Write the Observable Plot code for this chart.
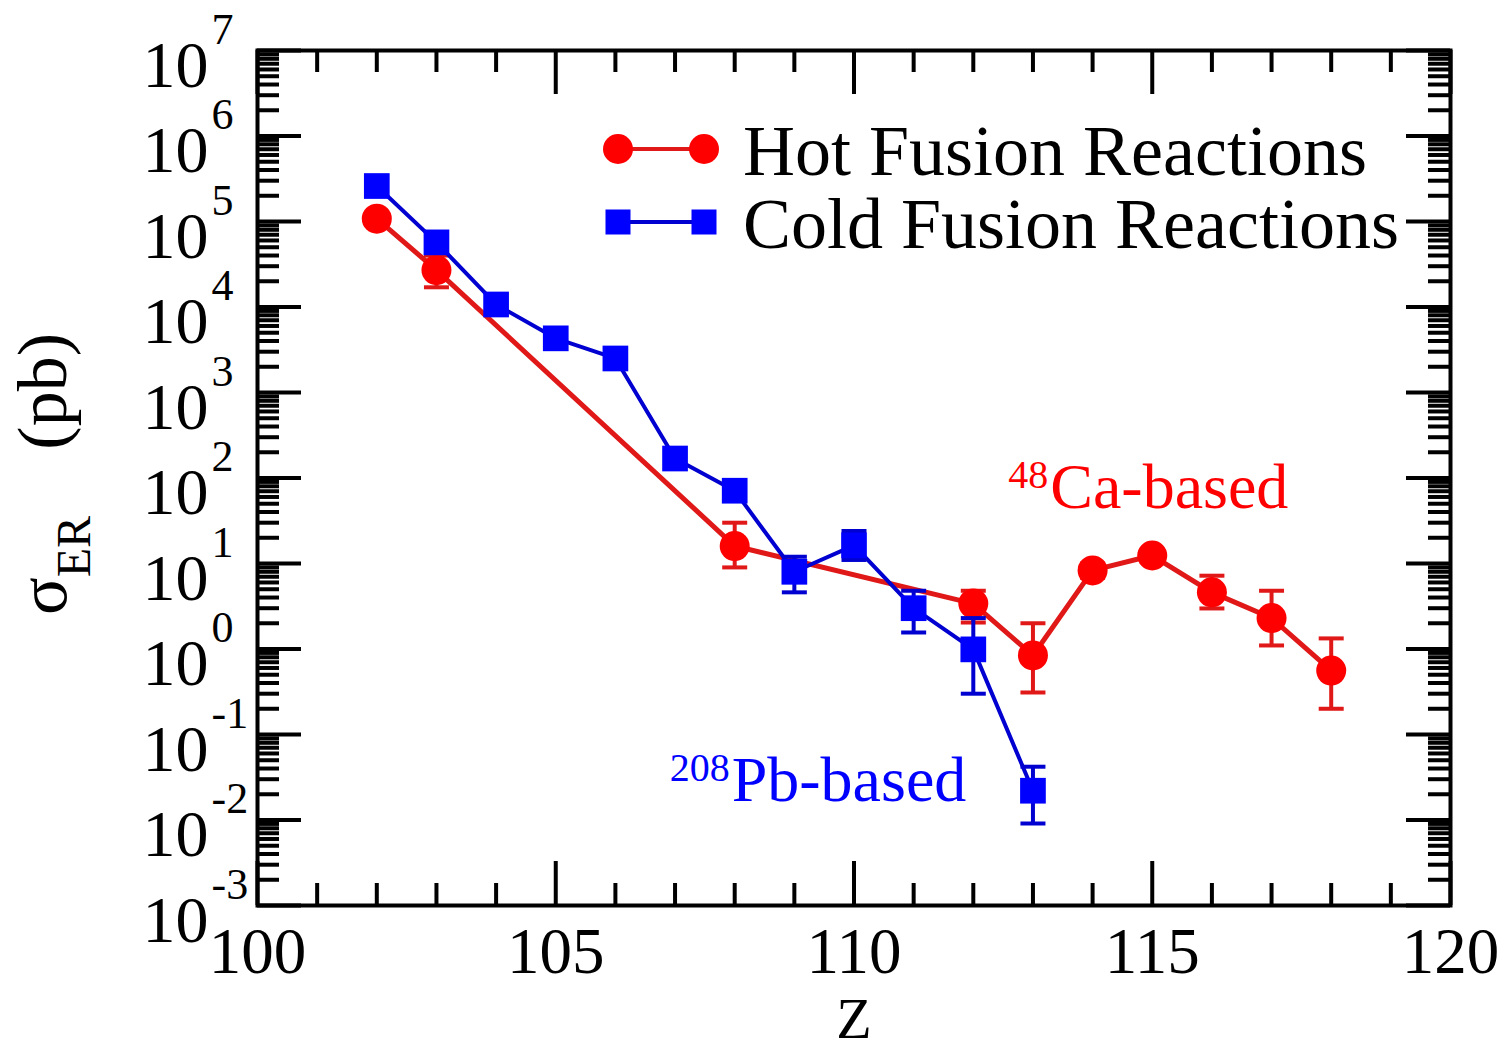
<!DOCTYPE html>
<html><head><meta charset="utf-8">
<script src="https://cdn.jsdelivr.net/npm/d3@7"></script>
<script src="https://cdn.jsdelivr.net/npm/@observablehq/plot@0.6"></script>
<style>body{margin:0;background:#fff} #chart{width:1507px;height:1050px}</style>
</head><body><div id="chart"></div>
<script>
// ---- data ----
const Z_hot     = [102, 103, 108, 112, 113, 114, 115, 116, 117, 118];
const sigma_hot = [1.08e5, 2.7e4, 16, 3.4, 0.84, 8.3, 12.4, 4.6, 2.3, 0.56];
const hot_lo    = [null, 1.7e4, 9.0, 2.04, 0.31, 6.8, 10.5, 2.98, 1.1, 0.2];
const hot_hi    = [null, 4.0e4, 30, 4.8, 2.0, 10, 14.5, 7.2, 4.8, 1.33];

const Z_cold     = [102, 103, 104, 105, 106, 107, 108, 109, 110, 111, 112, 113];
const sigma_cold = [2.6e5, 5.7e4, 1.07e4, 4.3e3, 2.5e3, 169, 71, 8.0, 16.3, 3.0, 0.99, 0.022];
const cold_lo    = [null, null, null, null, null, null, null, 4.6, 11, 1.56, 0.30, 0.0091];
const cold_hi    = [null, null, null, null, null, null, null, 12, 24, 4.8, 2.3, 0.042];

const xTickLabels = [100, 105, 110, 115, 120];
const yExponents  = [-3, -2, -1, 0, 1, 2, 3, 4, 5, 6, 7];
const legendLabels = ["Hot Fusion Reactions", "Cold Fusion Reactions"];
const annotations = [
  {sup: "48",  label: "Ca-based", z: 113.29, s: 45,     color: "#ff0000"},
  {sup: "208", label: "Pb-based", z: 107.95, s: 0.0169, color: "#0000ff"}
];

// ---- layout ----
const W = 1507, H = 1050, mL = 257, mR = 57, mT = 50, mB = 145;
const iw = W - mL - mR, ih = H - mT - mB;
const serif = "Liberation Serif, Times New Roman, serif";
const RED = "#ff0000", REDL = "#e01818", BLUE = "#0000ff", BLUEL = "#0000d0";

const hot  = Z_hot.map((z, i) => ({z, s: sigma_hot[i], lo: hot_lo[i], hi: hot_hi[i]}));
const cold = Z_cold.map((z, i) => ({z, s: sigma_cold[i], lo: cold_lo[i], hi: cold_hi[i]}));
const hotErr = hot.filter(d => d.lo != null);
const coldErr = cold.filter(d => d.lo != null);

const capSym = {draw(ctx) { ctx.moveTo(-12.5, 0); ctx.lineTo(12.5, 0); }};

const yMajor = yExponents.map(e => 10 ** e);
const yMinor = d3.range(-3, 7).flatMap(e => d3.range(2, 10).map(k => k * 10 ** e));
const xMajor = xTickLabels;
const xMinor = d3.range(101, 120).filter(v => v % 5 !== 0);

const MAJ = 44, MIN = 22, TW = 4;

const chart = Plot.plot({
  width: W, height: H,
  marginLeft: mL, marginRight: mR, marginTop: mT, marginBottom: mB,
  style: {fontFamily: serif, background: "#fff", overflow: "visible"},
  x: {domain: [100, 120], axis: null},
  y: {type: "log", domain: [1e-3, 1e7], axis: null},
  marks: [
    // ticks pointing inward on all four sides
    Plot.tickY(yMajor, {y: d => d, insetRight: iw - MAJ, stroke: "#000", strokeWidth: TW}),
    Plot.tickY(yMajor, {y: d => d, insetLeft: iw - MAJ, stroke: "#000", strokeWidth: TW}),
    Plot.tickY(yMinor, {y: d => d, insetRight: iw - MIN, stroke: "#000", strokeWidth: TW}),
    Plot.tickY(yMinor, {y: d => d, insetLeft: iw - MIN, stroke: "#000", strokeWidth: TW}),
    Plot.tickX(xMajor, {x: d => d, insetTop: ih - MAJ, stroke: "#000", strokeWidth: TW}),
    Plot.tickX(xMajor, {x: d => d, insetBottom: ih - MAJ, stroke: "#000", strokeWidth: TW}),
    Plot.tickX(xMinor, {x: d => d, insetTop: ih - MIN, stroke: "#000", strokeWidth: TW}),
    Plot.tickX(xMinor, {x: d => d, insetBottom: ih - MIN, stroke: "#000", strokeWidth: TW}),
    Plot.frame({stroke: "#000", strokeWidth: 4}),

    // tick labels
    Plot.text(yExponents, {y: e => 10 ** e, text: () => "10", frameAnchor: "left", textAnchor: "end",
      lineAnchor: "bottom", dx: -49, dy: 36, fontSize: 66, fill: "#000"}),
    Plot.text(yExponents, {y: e => 10 ** e, text: e => String(e), frameAnchor: "left", textAnchor: "start",
      lineAnchor: "bottom", dx: -46, dy: -7, fontSize: 44, fill: "#000"}),
    Plot.text(xMajor, {x: d => d, text: d => String(d), frameAnchor: "bottom", lineAnchor: "bottom",
      dy: 67, fontSize: 65, fill: "#000"}),
    Plot.text(["Z"], {frameAnchor: "bottom", lineAnchor: "bottom", dy: 132, fontSize: 58, fill: "#000"}),

    // hot fusion (red)
    Plot.line(hot, {x: "z", y: "s", stroke: REDL, strokeWidth: 5}),
    Plot.ruleX(hotErr, {x: "z", y1: "lo", y2: "hi", stroke: REDL, strokeWidth: 4}),
    Plot.dot(hotErr, {x: "z", y: "lo", symbol: capSym, stroke: REDL, strokeWidth: 4, fill: "none"}),
    Plot.dot(hotErr, {x: "z", y: "hi", symbol: capSym, stroke: REDL, strokeWidth: 4, fill: "none"}),
    Plot.dot(hot, {x: "z", y: "s", r: 15, fill: RED, stroke: "none"}),

    // cold fusion (blue)
    Plot.line(cold, {x: "z", y: "s", stroke: BLUEL, strokeWidth: 4}),
    Plot.ruleX(coldErr, {x: "z", y1: "lo", y2: "hi", stroke: BLUEL, strokeWidth: 4}),
    Plot.dot(coldErr, {x: "z", y: "lo", symbol: capSym, stroke: BLUEL, strokeWidth: 4, fill: "none"}),
    Plot.dot(coldErr, {x: "z", y: "hi", symbol: capSym, stroke: BLUEL, strokeWidth: 4, fill: "none"}),
    Plot.dot(cold, {x: "z", y: "s", symbol: "square", r: 14.5, fill: BLUE, stroke: "none"}),

    // annotations
    Plot.text(annotations, {x: "z", y: "s", text: "label", fill: "color", textAnchor: "start",
      lineAnchor: "bottom", fontSize: 64}),
    Plot.text(annotations, {x: "z", y: "s", text: "sup", fill: "color", textAnchor: "end",
      lineAnchor: "bottom", dx: -2, dy: -20, fontSize: 40})
  ]
});

document.getElementById("chart").appendChild(chart);

// y-axis label with subscript
const svg = d3.select(chart);
const yl = svg.append("text")
  .attr("transform", "translate(66,615) rotate(-90)")
  .attr("text-anchor", "start")
  .attr("font-family", serif).attr("font-size", 70).attr("fill", "#000");
yl.append("tspan").text("σ");
yl.append("tspan").attr("font-size", 48).attr("dy", 24).text("ER");
svg.append("text")
  .attr("transform", "translate(66,333) rotate(-90)")
  .attr("text-anchor", "end")
  .attr("font-family", serif).attr("font-size", 70).attr("fill", "#000")
  .text("(pb)");

// legend
const lg = svg.append("g");
const rows = [
  {label: legendLabels[0], y: 149, color: RED, line: REDL, shape: "circle"},
  {label: legendLabels[1], y: 222, color: BLUE, line: BLUEL, shape: "square"}
];
rows.forEach(r => {
  lg.append("line").attr("x1", 618).attr("x2", 704).attr("y1", r.y).attr("y2", r.y)
    .attr("stroke", r.line).attr("stroke-width", 4);
  [618, 704].forEach(cx => {
    if (r.shape === "circle") lg.append("circle").attr("cx", cx).attr("cy", r.y).attr("r", 15).attr("fill", r.color);
    else lg.append("rect").attr("x", cx - 12.5).attr("y", r.y - 12.5).attr("width", 25).attr("height", 25).attr("fill", r.color);
  });
  lg.append("text").attr("x", 743).attr("y", r.y + 26).attr("text-anchor", "start")
    .attr("font-family", serif).attr("font-size", 72).attr("fill", "#000").text(r.label);
});
</script>
</body></html>
